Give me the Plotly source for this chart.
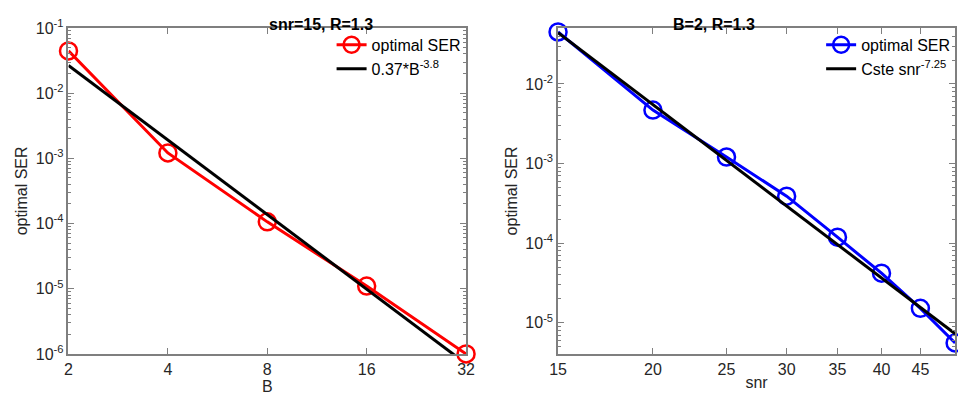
import plotly.graph_objects as go
import numpy as np

# Left panel data
B_vals = [2, 4, 8, 16, 32]
ser_B = [0.0444, 1.21e-3, 1.06e-4, 1.1e-5, 1.0e-6]
fit_B_x = [2, 32]
fit_B_y = [0.0266, 7.06e-7]

# Right panel data
snr_vals = [15, 20, 25, 30, 35, 40, 45, 50]
ser_snr = [0.045, 4.7e-3, 1.21e-3, 3.9e-4, 1.19e-4, 4.2e-5, 1.52e-5, 5.6e-6]
fit_snr_x = [15, 50]
fit_snr_y = [0.044, 7.3e-6]

left_xticks = [2, 4, 8, 16, 32]
right_xticks = [15, 20, 25, 30, 35, 40, 45]
left_yticks = [1e-6, 1e-5, 1e-4, 1e-3, 1e-2, 1e-1]
right_yticks = [1e-5, 1e-4, 1e-3, 1e-2]
minor_digits = [2, 3, 4, 5, 6, 7, 8, 9]
decades = [1e-7, 1e-6, 1e-5, 1e-4, 1e-3, 1e-2]
minor_y = [d * m for d in decades for m in minor_digits]

def exp_label(v):
    return "10<sup>%d</sup>" % int(round(np.log10(v)))

FONT = "Liberation Sans, Arial, Helvetica, sans-serif"
AXC = "#262626"
LINEC = "#7f7f7f"
FS = 16
EPS = 1e-5

fig = go.Figure()
fig.add_trace(go.Scatter(x=B_vals, y=ser_B, mode="lines+markers", name="optimal SER",
                         line=dict(color="#ff0000", width=3),
                         marker=dict(symbol="circle-open", size=17, line=dict(width=2.5, color="#ff0000")),
                         xaxis="x", yaxis="y", legend="legend", cliponaxis=False))
fig.add_trace(go.Scatter(x=fit_B_x, y=fit_B_y, mode="lines", name="0.37*B<sup>-3.8</sup>",
                         line=dict(color="#000000", width=3),
                         xaxis="x", yaxis="y", legend="legend"))
fig.add_trace(go.Scatter(x=snr_vals, y=ser_snr, mode="lines+markers", name="optimal SER",
                         line=dict(color="#0000ff", width=3),
                         marker=dict(symbol="circle-open", size=17, line=dict(width=2.5, color="#0000ff")),
                         xaxis="x2", yaxis="y2", legend="legend2", cliponaxis=False))
fig.add_trace(go.Scatter(x=fit_snr_x, y=fit_snr_y, mode="lines", name="Cste snr<sup>-7.25</sup>",
                         line=dict(color="#000000", width=3),
                         xaxis="x2", yaxis="y2", legend="legend2"))

common = dict(type="log", showgrid=False, zeroline=False, showline=True, linecolor=LINEC,
              linewidth=1.5, mirror="allticks", ticks="inside", ticklen=6, tickcolor=LINEC,
              automargin=False,
              tickfont=dict(family=FONT, size=FS, color=AXC),
              title_font=dict(family=FONT, size=FS, color=AXC))
ymin = dict(minor=dict(ticks="inside", ticklen=3, tickcolor=LINEC, showgrid=False,
                       tickmode="array", tickvals=minor_y))

fig.update_layout(
    width=958, height=399,
    margin=dict(l=0, r=0, t=0, b=0),
    paper_bgcolor="white", plot_bgcolor="white",
    font=dict(family=FONT, color=AXC),
    xaxis=dict(common, domain=[0.0715, 0.4865], range=[np.log10(2) - EPS, np.log10(32) + EPS],
               tickvals=left_xticks, ticktext=[str(v) for v in left_xticks],
               title=dict(text="B", standoff=0), anchor="y"),
    yaxis=dict(common, **ymin, domain=[0.113, 0.930], range=[-6 - EPS, -1 + EPS],
               tickvals=left_yticks, ticktext=[exp_label(v) for v in left_yticks],
               title=dict(text="optimal SER", standoff=4), anchor="x"),
    xaxis2=dict(common, domain=[0.5825, 0.997], range=[np.log10(15) - EPS, np.log10(50) + EPS],
                tickvals=right_xticks, ticktext=[str(v) for v in right_xticks],
                title=dict(text="snr", standoff=0), anchor="y2"),
    yaxis2=dict(common, **ymin, domain=[0.113, 0.930], range=[np.log10(4.07e-6), np.log10(0.0506)],
                tickvals=right_yticks, ticktext=[exp_label(v) for v in right_yticks],
                title=dict(text="optimal SER", standoff=4), anchor="x2"),
    legend=dict(x=0.486, y=0.93, xanchor="right", yanchor="top", bgcolor="rgba(255,255,255,0)",
                font=dict(family=FONT, size=FS, color="#000000"), tracegroupgap=0,
                itemwidth=30),
    legend2=dict(x=0.997, y=0.93, xanchor="right", yanchor="top", bgcolor="rgba(255,255,255,0)",
                 font=dict(family=FONT, size=FS, color="#000000"), tracegroupgap=0,
                 itemwidth=30),
    annotations=[
        dict(text="<b>snr=15, R=1.3</b>", x=0.279, y=1 - 14 / 399, xref="paper", yref="paper",
             showarrow=False, font=dict(family=FONT, size=FS, color="#000000")),
        dict(text="<b>B=2, R=1.3</b>", x=0.79, y=1 - 14 / 399, xref="paper", yref="paper",
             showarrow=False, font=dict(family=FONT, size=FS, color="#000000")),
    ],
    showlegend=True,
)

fig.write_html("out.html")
